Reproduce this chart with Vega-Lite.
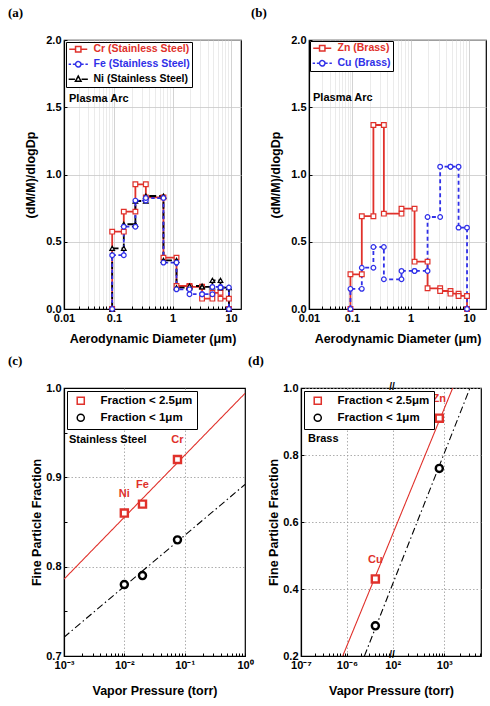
{
"$schema":"https://vega.github.io/schema/vega-lite/v6.json",
"background":"white",
"padding":{"left":7,"top":6,"right":0,"bottom":0},
"config":{
 "font":"Liberation Sans",
 "view":{"stroke":"black","strokeWidth":1.2},
 "axis":{"labelFont":"Liberation Sans","labelFontSize":11,"labelFontWeight":"bold","labelColor":"black","titleFont":"Liberation Sans","titleFontSize":12.5,"titleFontWeight":"bold","titleColor":"black","domainColor":"black","domainWidth":1.2,"tickColor":"black","tickWidth":1,"tickSize":-3,"labelFlush":false,"labelOverlap":false},
 "legend":{"labelFont":"Liberation Sans","labelColor":"black"},
 "text":{"font":"Liberation Sans"},
 "title":{"font":"Liberation Serif","fontSize":13,"fontWeight":"bold","color":"black","anchor":"start","frame":"group","offset":14}
},
"datasets":{
 "a":[
  {"s":"Cr","o":0,"d":0.092,"v":0},{"s":"Cr","o":1,"d":0.092,"v":0.575},{"s":"Cr","o":2,"d":0.147,"v":0.575},{"s":"Cr","o":3,"d":0.147,"v":0.724},{"s":"Cr","o":4,"d":0.232,"v":0.724},{"s":"Cr","o":5,"d":0.232,"v":0.927},{"s":"Cr","o":6,"d":0.35,"v":0.927},{"s":"Cr","o":7,"d":0.35,"v":0.83},{"s":"Cr","o":8,"d":0.7,"v":0.83},{"s":"Cr","o":9,"d":0.7,"v":0.382},{"s":"Cr","o":10,"d":1.17,"v":0.382},{"s":"Cr","o":11,"d":1.17,"v":0.171},{"s":"Cr","o":12,"d":1.95,"v":0.171},{"s":"Cr","o":13,"d":1.95,"v":0.165},{"s":"Cr","o":14,"d":3.2,"v":0.165},{"s":"Cr","o":15,"d":3.2,"v":0.077},{"s":"Cr","o":16,"d":4.8,"v":0.077},{"s":"Cr","o":17,"d":4.8,"v":0.12},{"s":"Cr","o":18,"d":6.6,"v":0.12},{"s":"Cr","o":19,"d":6.6,"v":0.077},{"s":"Cr","o":20,"d":9.2,"v":0.077},{"s":"Cr","o":21,"d":9.2,"v":0},
  {"s":"Ni","o":0,"d":0.092,"v":0},{"s":"Ni","o":1,"d":0.092,"v":0.451},{"s":"Ni","o":2,"d":0.147,"v":0.451},{"s":"Ni","o":3,"d":0.147,"v":0.63},{"s":"Ni","o":4,"d":0.232,"v":0.63},{"s":"Ni","o":5,"d":0.232,"v":0.803},{"s":"Ni","o":6,"d":0.35,"v":0.803},{"s":"Ni","o":7,"d":0.35,"v":0.84},{"s":"Ni","o":8,"d":0.7,"v":0.84},{"s":"Ni","o":9,"d":0.7,"v":0.362},{"s":"Ni","o":10,"d":1.17,"v":0.362},{"s":"Ni","o":11,"d":1.17,"v":0.159},{"s":"Ni","o":12,"d":1.95,"v":0.159},{"s":"Ni","o":13,"d":1.95,"v":0.171},{"s":"Ni","o":14,"d":3.2,"v":0.171},{"s":"Ni","o":15,"d":3.2,"v":0.164},{"s":"Ni","o":16,"d":4.8,"v":0.164},{"s":"Ni","o":17,"d":4.8,"v":0.213},{"s":"Ni","o":18,"d":6.6,"v":0.213},{"s":"Ni","o":19,"d":6.6,"v":0.159},{"s":"Ni","o":20,"d":9.2,"v":0.159},{"s":"Ni","o":21,"d":9.2,"v":0},
  {"s":"Fe","o":0,"d":0.092,"v":0},{"s":"Fe","o":1,"d":0.092,"v":0.4},{"s":"Fe","o":2,"d":0.147,"v":0.4},{"s":"Fe","o":3,"d":0.147,"v":0.612},{"s":"Fe","o":4,"d":0.232,"v":0.612},{"s":"Fe","o":5,"d":0.232,"v":0.806},{"s":"Fe","o":6,"d":0.35,"v":0.806},{"s":"Fe","o":7,"d":0.35,"v":0.825},{"s":"Fe","o":8,"d":0.7,"v":0.825},{"s":"Fe","o":9,"d":0.7,"v":0.345},{"s":"Fe","o":10,"d":1.17,"v":0.345},{"s":"Fe","o":11,"d":1.17,"v":0.146},{"s":"Fe","o":12,"d":1.95,"v":0.146},{"s":"Fe","o":13,"d":1.95,"v":0.11},{"s":"Fe","o":14,"d":3.2,"v":0.11},{"s":"Fe","o":15,"d":3.2,"v":0.11},{"s":"Fe","o":16,"d":4.8,"v":0.11},{"s":"Fe","o":17,"d":4.8,"v":0.164},{"s":"Fe","o":18,"d":6.6,"v":0.164},{"s":"Fe","o":19,"d":6.6,"v":0.16},{"s":"Fe","o":20,"d":9.2,"v":0.16},{"s":"Fe","o":21,"d":9.2,"v":0}
 ],
 "b":[
  {"s":"Zn","o":0,"d":0.092,"v":0},{"s":"Zn","o":1,"d":0.092,"v":0.258},{"s":"Zn","o":2,"d":0.147,"v":0.258},{"s":"Zn","o":3,"d":0.147,"v":0.69},{"s":"Zn","o":4,"d":0.232,"v":0.69},{"s":"Zn","o":5,"d":0.232,"v":1.368},{"s":"Zn","o":6,"d":0.35,"v":1.368},{"s":"Zn","o":7,"d":0.35,"v":0.709},{"s":"Zn","o":8,"d":0.7,"v":0.709},{"s":"Zn","o":9,"d":0.7,"v":0.746},{"s":"Zn","o":10,"d":1.17,"v":0.746},{"s":"Zn","o":11,"d":1.17,"v":0.352},{"s":"Zn","o":12,"d":1.95,"v":0.352},{"s":"Zn","o":13,"d":1.95,"v":0.154},{"s":"Zn","o":14,"d":3.2,"v":0.154},{"s":"Zn","o":15,"d":3.2,"v":0.134},{"s":"Zn","o":16,"d":4.8,"v":0.134},{"s":"Zn","o":17,"d":4.8,"v":0.114},{"s":"Zn","o":18,"d":6.6,"v":0.114},{"s":"Zn","o":19,"d":6.6,"v":0.097},{"s":"Zn","o":20,"d":9.2,"v":0.097},{"s":"Zn","o":21,"d":9.2,"v":0},
  {"s":"Cu","o":0,"d":0.092,"v":0},{"s":"Cu","o":1,"d":0.092,"v":0.15},{"s":"Cu","o":2,"d":0.147,"v":0.15},{"s":"Cu","o":3,"d":0.147,"v":0.307},{"s":"Cu","o":4,"d":0.232,"v":0.307},{"s":"Cu","o":5,"d":0.232,"v":0.461},{"s":"Cu","o":6,"d":0.35,"v":0.461},{"s":"Cu","o":7,"d":0.35,"v":0.221},{"s":"Cu","o":8,"d":0.7,"v":0.221},{"s":"Cu","o":9,"d":0.7,"v":0.283},{"s":"Cu","o":10,"d":1.17,"v":0.283},{"s":"Cu","o":11,"d":1.17,"v":0.283},{"s":"Cu","o":12,"d":1.95,"v":0.283},{"s":"Cu","o":13,"d":1.95,"v":0.684},{"s":"Cu","o":14,"d":3.2,"v":0.684},{"s":"Cu","o":15,"d":3.2,"v":1.058},{"s":"Cu","o":16,"d":4.8,"v":1.058},{"s":"Cu","o":17,"d":4.8,"v":1.058},{"s":"Cu","o":18,"d":6.6,"v":1.058},{"s":"Cu","o":19,"d":6.6,"v":0.605},{"s":"Cu","o":20,"d":9.2,"v":0.605},{"s":"Cu","o":21,"d":9.2,"v":0}
 ],
 "cfit":[
  {"g":"Fraction < 2.5μm","x":0.001,"y":0.786},{"g":"Fraction < 2.5μm","x":1,"y":0.994},
  {"g":"Fraction < 1μm","x":0.001,"y":0.721},{"g":"Fraction < 1μm","x":1,"y":0.892}
 ],
 "cpts":[
  {"g":"Fraction < 2.5μm","x":0.01,"y":0.86,"el":"Ni"},{"g":"Fraction < 2.5μm","x":0.02,"y":0.87,"el":"Fe"},{"g":"Fraction < 2.5μm","x":0.076,"y":0.92,"el":"Cr"},
  {"g":"Fraction < 1μm","x":0.01,"y":0.78},{"g":"Fraction < 1μm","x":0.02,"y":0.79},{"g":"Fraction < 1μm","x":0.076,"y":0.83}
 ],
 "dfit":[
  {"g":"Fraction < 2.5μm","x":8.07e-7,"y":0.2},{"g":"Fraction < 2.5μm","x":8.5e-6,"y":0.544},{"g":"Fraction < 2.5μm","x":100,"y":0.564},{"g":"Fraction < 2.5μm","x":1456,"y":1.0},
  {"g":"Fraction < 1μm","x":2.38e-6,"y":0.2},{"g":"Fraction < 1μm","x":8.5e-6,"y":0.3945},{"g":"Fraction < 1μm","x":100,"y":0.415},{"g":"Fraction < 1μm","x":3150,"y":1.0}
 ],
 "dpts":[
  {"g":"Fraction < 2.5μm","x":4.1e-6,"y":0.43,"el":"Cu"},{"g":"Fraction < 2.5μm","x":800,"y":0.91,"el":"Zn"},
  {"g":"Fraction < 1μm","x":4.1e-6,"y":0.29},{"g":"Fraction < 1μm","x":800,"y":0.76}
 ]
},
"spacing":8,
"resolve":{"scale":{"stroke":"independent","shape":"independent","strokeDash":"independent"}},
"vconcat":[
 {"hconcat":[
  {"width":177,"height":269,
   "title":{"text":"(a)","dx":-56},
   "layer":[
    {"data":{"name":"a"},"mark":{"type":"line","strokeWidth":1.8},
     "encoding":{
      "x":{"field":"d","type":"quantitative","title":"Aerodynamic Diameter (μm)","scale":{"type":"log","domain":[0.01,0.1,14.8],"range":[0,50,177],"nice":false},
        "axis":{"values":[0.01,0.02,0.03,0.04,0.05,0.06,0.07,0.08,0.09,0.1,0.2,0.3,0.4,0.5,0.6,0.7,0.8,0.9,1,2,3,4,5,6,7,8,9,10],"labelExpr":"datum.value==0.01?'0.01':datum.value==0.1?'0.1':datum.value==1?'1':datum.value==10?'10':''","labelPadding":6,"titlePadding":9,"grid":true,"gridWidth":0.8,"gridColor":{"condition":{"test":"datum.value==0.01||datum.value==0.1||datum.value==1||datum.value==10","value":"#c8c8c8"},"value":"#e6e6e6"}}},
      "y":{"field":"v","type":"quantitative","title":"(dM/M)/dlogDp","scale":{"domain":[0,2],"nice":false,"zero":false},
        "axis":{"values":[0,0.25,0.5,0.75,1,1.25,1.5,1.75,2],"labelExpr":"datum.value*2==round(datum.value*2)?format(datum.value,'.1f'):''","labelPadding":6,"titlePadding":8,"grid":true,"gridWidth":0.8,"gridColor":{"condition":{"test":"datum.value*2==round(datum.value*2)","value":"#c8c8c8"},"value":"#f0f0f0"}}},
      "stroke":{"field":"s","type":"nominal","scale":{"domain":["Cr","Fe","Ni"],"range":["#e0312b","#3030e8","#000000"]},
        "legend":{"title":null,"orient":"top-left","offset":2,"padding":2,"strokeColor":"black","fillColor":"white","symbolSize":36,"symbolOffset":5,"labelOffset":10,"labelFontSize":10.5,"labelFontWeight":"bold","rowPadding":3,
          "labelExpr":"datum.label + ' (Stainless Steel)'",
          "encode":{"symbols":{"update":{"shape":{"signal":"datum.value==='Cr'?'M-3,0H-0.9M0.9,0H3M-0.9,-0.9H0.9V0.9H-0.9Z':datum.value==='Fe'?'M-3.2,0H-2.4M-1.8,0H-1.1M1.1,0H1.8M2.4,0H3.2M0.9,0A0.9,0.9,0,1,1,-0.9,0A0.9,0.9,0,1,1,0.9,0Z':'M-3.2,0H-1.1M1.1,0H3.2M0,-1.05L0.95,0.7H-0.95Z'"},"fill":{"value":"white"},"strokeWidth":{"value":1.5},"strokeDash":{"value":[1,0]}}},
            "labels":{"update":{"fill":{"signal":"datum.value==='Cr'?'#e0312b':datum.value==='Fe'?'#3030e8':'#000000'"}}}}}},
      "strokeDash":{"field":"s","type":"nominal","scale":{"domain":["Ni","Fe","Cr"],"range":[[7,3],[3.5,2.5],[1,0]]},"legend":null},
      "order":{"field":"o","type":"quantitative"}}},
    {"data":{"name":"a"},"mark":{"type":"point","filled":true,"fill":"white","size":22,"strokeWidth":1.2,"opacity":1},
     "encoding":{
      "x":{"field":"d","type":"quantitative"},
      "y":{"field":"v","type":"quantitative"},
      "stroke":{"field":"s","type":"nominal",
        "legend":{"title":null,"orient":"top-left","offset":2,"padding":2,"strokeColor":"black","fillColor":"white","symbolSize":36,"symbolOffset":5,"labelOffset":10,"labelFontSize":10.5,"labelFontWeight":"bold","rowPadding":3,
          "labelExpr":"datum.label + ' (Stainless Steel)'",
          "encode":{"symbols":{"update":{"shape":{"signal":"datum.value==='Cr'?'M-3,0H-0.9M0.9,0H3M-0.9,-0.9H0.9V0.9H-0.9Z':datum.value==='Fe'?'M-3.2,0H-2.4M-1.8,0H-1.1M1.1,0H1.8M2.4,0H3.2M0.9,0A0.9,0.9,0,1,1,-0.9,0A0.9,0.9,0,1,1,0.9,0Z':'M-3.2,0H-1.1M1.1,0H3.2M0,-1.05L0.95,0.7H-0.95Z'"},"fill":{"value":"white"},"strokeWidth":{"value":1.5},"strokeDash":{"value":[1,0]}}},
            "labels":{"update":{"fill":{"signal":"datum.value==='Cr'?'#e0312b':datum.value==='Fe'?'#3030e8':'#000000'"}}}}}},
      "shape":{"field":"s","type":"nominal","scale":{"domain":["Ni","Fe","Cr"],"range":["triangle-up","circle","square"]},"legend":null}}},
    {"data":{"values":[{"t":"Plasma Arc","x":0.0126,"y":1.561}]},"mark":{"type":"text","align":"left","baseline":"middle","fontSize":11,"fontWeight":"bold","color":"black"},
     "encoding":{"x":{"field":"x","type":"quantitative"},"y":{"field":"y","type":"quantitative"},"text":{"field":"t"}}}
   ]},
  {"width":177,"height":269,
   "title":{"text":"(b)","dx":-58},
   "layer":[
    {"data":{"name":"b"},"mark":{"type":"line","strokeWidth":1.8},
     "encoding":{
      "x":{"field":"d","type":"quantitative","title":"Aerodynamic Diameter (μm)","scale":{"type":"log","domain":[0.01,0.1,19.4],"range":[0,43,177],"nice":false},
        "axis":{"values":[0.01,0.02,0.03,0.04,0.05,0.06,0.07,0.08,0.09,0.1,0.2,0.3,0.4,0.5,0.6,0.7,0.8,0.9,1,2,3,4,5,6,7,8,9,10],"labelExpr":"datum.value==0.01?'0.01':datum.value==0.1?'0.1':datum.value==1?'1':datum.value==10?'10':''","labelPadding":6,"titlePadding":9,"grid":true,"gridWidth":0.8,"gridColor":{"condition":{"test":"datum.value==0.01||datum.value==0.1||datum.value==1||datum.value==10","value":"#c8c8c8"},"value":"#e6e6e6"}}},
      "y":{"field":"v","type":"quantitative","title":"(dM/M)/dlogDp","scale":{"domain":[0,2],"nice":false,"zero":false},
        "axis":{"values":[0,0.25,0.5,0.75,1,1.25,1.5,1.75,2],"labelExpr":"datum.value*2==round(datum.value*2)?format(datum.value,'.1f'):''","labelPadding":6,"titlePadding":8,"grid":true,"gridWidth":0.8,"gridColor":{"condition":{"test":"datum.value*2==round(datum.value*2)","value":"#c8c8c8"},"value":"#f0f0f0"}}},
      "stroke":{"field":"s","type":"nominal","scale":{"domain":["Zn","Cu"],"range":["#e0312b","#3030e8"]},
        "legend":{"title":null,"orient":"top-left","offset":1,"padding":2,"strokeColor":"black","fillColor":"white","symbolSize":36,"symbolOffset":5,"labelOffset":10,"labelFontSize":10.5,"labelFontWeight":"bold","rowPadding":3,
          "labelExpr":"datum.label + ' (Brass)'",
          "encode":{"symbols":{"update":{"shape":{"signal":"datum.value==='Zn'?'M-3,0H-0.9M0.9,0H3M-0.9,-0.9H0.9V0.9H-0.9Z':'M-3.2,0H-2.4M-1.8,0H-1.1M1.1,0H1.8M2.4,0H3.2M0.9,0A0.9,0.9,0,1,1,-0.9,0A0.9,0.9,0,1,1,0.9,0Z'"},"fill":{"value":"white"},"strokeWidth":{"value":1.5},"strokeDash":{"value":[1,0]}}},
            "labels":{"update":{"fill":{"signal":"datum.value==='Zn'?'#e0312b':'#3030e8'"}}}}}},
      "strokeDash":{"field":"s","type":"nominal","scale":{"domain":["Cu","Zn"],"range":[[4,3],[1,0]]},"legend":null},
      "order":{"field":"o","type":"quantitative"}}},
    {"data":{"name":"b"},"mark":{"type":"point","filled":true,"fill":"white","size":22,"strokeWidth":1.2,"opacity":1},
     "encoding":{
      "x":{"field":"d","type":"quantitative"},
      "y":{"field":"v","type":"quantitative"},
      "stroke":{"field":"s","type":"nominal",
        "legend":{"title":null,"orient":"top-left","offset":1,"padding":2,"strokeColor":"black","fillColor":"white","symbolSize":36,"symbolOffset":5,"labelOffset":10,"labelFontSize":10.5,"labelFontWeight":"bold","rowPadding":3,
          "labelExpr":"datum.label + ' (Brass)'",
          "encode":{"symbols":{"update":{"shape":{"signal":"datum.value==='Zn'?'M-3,0H-0.9M0.9,0H3M-0.9,-0.9H0.9V0.9H-0.9Z':'M-3.2,0H-2.4M-1.8,0H-1.1M1.1,0H1.8M2.4,0H3.2M0.9,0A0.9,0.9,0,1,1,-0.9,0A0.9,0.9,0,1,1,0.9,0Z'"},"fill":{"value":"white"},"strokeWidth":{"value":1.5},"strokeDash":{"value":[1,0]}}},
            "labels":{"update":{"fill":{"signal":"datum.value==='Zn'?'#e0312b':'#3030e8'"}}}}}},
      "shape":{"field":"s","type":"nominal","scale":{"domain":["Cu","Zn"],"range":["circle","square"]},"legend":null}}},
    {"data":{"values":[{"t":"Plasma Arc","x":0.0124,"y":1.569}]},"mark":{"type":"text","align":"left","baseline":"middle","fontSize":11,"fontWeight":"bold","color":"black"},
     "encoding":{"x":{"field":"x","type":"quantitative"},"y":{"field":"y","type":"quantitative"},"text":{"field":"t"}}}
   ]}
 ],"spacing":68,"bounds":"flush","resolve":{"scale":{"stroke":"independent","shape":"independent","strokeDash":"independent"}}},
 {"hconcat":[
  {"width":181,"height":268,
   "title":{"text":"(c)","dx":-56},
   "layer":[
    {"data":{"name":"cfit"},"mark":{"type":"line","strokeWidth":1.1,"clip":true},
     "encoding":{
      "x":{"field":"x","type":"quantitative","title":"Vapor Pressure (torr)","scale":{"type":"log","domain":[0.001,1],"nice":false},
        "axis":{"values":[0.001,0.002,0.003,0.004,0.005,0.006,0.007,0.008,0.009,0.01,0.02,0.03,0.04,0.05,0.06,0.07,0.08,0.09,0.1,0.2,0.3,0.4,0.5,0.6,0.7,0.8,0.9,1],"labelExpr":"datum.value==0.001?'10⁻³':datum.value==0.01?'10⁻²':datum.value==0.1?'10⁻¹':datum.value==1?'10⁰':''","labelPadding":6,"titlePadding":14,"grid":true,"gridWidth":0.8,"gridDash":[1.5,2],"gridColor":{"condition":{"test":"datum.value==0.01||datum.value==0.1","value":"#999999"},"value":"rgba(0,0,0,0)"}}},
      "y":{"field":"y","type":"quantitative","title":"Fine Particle Fraction","scale":{"domain":[0.7,1.0],"nice":false,"zero":false},
        "axis":{"values":[0.7,0.75,0.8,0.85,0.9,0.95,1.0],"labelExpr":"abs(datum.value*10-round(datum.value*10))<0.001?format(datum.value,'.1f'):''","labelPadding":6,"titlePadding":2,"grid":true,"gridWidth":0.8,"gridDash":[1.5,2],"gridColor":{"condition":{"test":"abs(datum.value-0.8)<0.001||abs(datum.value-0.9)<0.001","value":"#999999"},"value":"rgba(0,0,0,0)"}}},
      "stroke":{"field":"g","type":"nominal","scale":{"domain":["Fraction < 2.5μm","Fraction < 1μm"],"range":["#e0312b","#000000"]}},
      "strokeDash":{"field":"g","type":"nominal","scale":{"domain":["Fraction < 1μm","Fraction < 2.5μm"],"range":[[7,3,1.5,3],[1,0]]},"legend":null}}},
    {"data":{"name":"cpts"},"mark":{"type":"point","filled":true,"fill":"white","size":50,"strokeWidth":2.4,"opacity":1},
     "encoding":{
      "x":{"field":"x","type":"quantitative"},
      "y":{"field":"y","type":"quantitative"},
      "stroke":{"field":"g","type":"nominal"},
      "shape":{"field":"g","type":"nominal","scale":{"domain":["Fraction < 2.5μm","Fraction < 1μm"],"range":["square","circle"]},
        "legend":{"title":null,"orient":"top-left","offset":3,"padding":4,"strokeColor":"black","fillColor":"white","symbolSize":50,"symbolOffset":4,"labelOffset":14,"labelFontSize":11.5,"labelFontWeight":"bold","rowPadding":3,
          "encode":{"symbols":{"update":{"fill":{"value":"white"},"strokeWidth":{"value":2.4},"strokeDash":{"value":[1,0]}}}}}}}},
    {"data":{"name":"cpts"},"transform":[{"filter":"datum.el"}],"mark":{"type":"text","dy":-19,"fontSize":11,"fontWeight":"bold","color":"#e0312b"},
     "encoding":{"x":{"field":"x","type":"quantitative"},"y":{"field":"y","type":"quantitative"},"text":{"field":"el"}}},
    {"data":{"values":[{"t":"Stainless Steel","x":0.00121,"y":0.942}]},"mark":{"type":"text","align":"left","baseline":"middle","fontSize":11,"fontWeight":"bold","color":"black"},
     "encoding":{"x":{"field":"x","type":"quantitative"},"y":{"field":"y","type":"quantitative"},"text":{"field":"t"}}}
   ]},
  {"width":180,"height":268,
   "title":{"text":"(d)","dx":-53},
   "layer":[
    {"data":{"name":"dfit"},"mark":{"type":"line","strokeWidth":1.1,"clip":true},
     "encoding":{
      "x":{"field":"x","type":"quantitative","title":"Vapor Pressure (torr)","scale":{"type":"log","domain":[1e-7,1e-6,8.5e-6,100,1000,5150],"range":[0,46,89,91.7,143.3,180],"nice":false},
        "axis":{"values":[1e-7,2e-7,3e-7,4e-7,5e-7,6e-7,7e-7,8e-7,9e-7,1e-6,2e-6,3e-6,4e-6,5e-6,6e-6,7e-6,8e-6,100,200,300,400,500,600,700,800,900,1000,2000,3000,4000,5000],"labelExpr":"datum.value==1e-7?'10⁻⁷':datum.value==1e-6?'10⁻⁶':datum.value==100?'10²':datum.value==1000?'10³':''","labelPadding":6,"titlePadding":14,"grid":true,"gridWidth":0.8,"gridDash":[1.5,2],"gridColor":{"condition":{"test":"datum.value==1e-6||datum.value==100||datum.value==1000","value":"#999999"},"value":"rgba(0,0,0,0)"}}},
      "y":{"field":"y","type":"quantitative","title":"Fine Particle Fraction","scale":{"domain":[0.2,1.0],"nice":false,"zero":false},
        "axis":{"values":[0.2,0.3,0.4,0.5,0.6,0.7,0.8,0.9,1.0],"labelExpr":"abs(datum.value*5-round(datum.value*5))<0.001?format(datum.value,'.1f'):''","labelPadding":6,"titlePadding":2,"grid":true,"gridWidth":0.8,"gridDash":[1.5,2],"gridColor":{"condition":{"test":"abs(datum.value*5-round(datum.value*5))<0.001","value":"#999999"},"value":"rgba(0,0,0,0)"}}},
      "stroke":{"field":"g","type":"nominal","scale":{"domain":["Fraction < 2.5μm","Fraction < 1μm"],"range":["#e0312b","#000000"]}},
      "strokeDash":{"field":"g","type":"nominal","scale":{"domain":["Fraction < 1μm","Fraction < 2.5μm"],"range":[[7,3,1.5,3],[1,0]]},"legend":null}}},
    {"data":{"name":"dpts"},"mark":{"type":"point","filled":true,"fill":"white","size":50,"strokeWidth":2.4,"opacity":1},
     "encoding":{
      "x":{"field":"x","type":"quantitative"},
      "y":{"field":"y","type":"quantitative"},
      "stroke":{"field":"g","type":"nominal"},
      "shape":{"field":"g","type":"nominal","scale":{"domain":["Fraction < 2.5μm","Fraction < 1μm"],"range":["square","circle"]},
        "legend":{"title":null,"orient":"top-left","offset":3,"padding":4,"strokeColor":"black","fillColor":"white","symbolSize":50,"symbolOffset":4,"labelOffset":14,"labelFontSize":11.5,"labelFontWeight":"bold","rowPadding":3,
          "encode":{"symbols":{"update":{"fill":{"value":"white"},"strokeWidth":{"value":2.4},"strokeDash":{"value":[1,0]}}}}}}}},
    {"data":{"name":"dpts"},"transform":[{"filter":"datum.el"}],"mark":{"type":"text","dy":-19,"fontSize":11,"fontWeight":"bold","color":"#e0312b"},
     "encoding":{"x":{"field":"x","type":"quantitative"},"y":{"field":"y","type":"quantitative"},"text":{"field":"el"}}},
    {"data":{"values":[{"t":"//","x":1,"y":0.2},{"t":"//","x":1,"y":1.0}]},"mark":{"type":"text","baseline":"middle","fontSize":10,"dy":-1,"fontWeight":"bold","color":"black"},
     "encoding":{"x":{"field":"x","type":"quantitative"},"y":{"field":"y","type":"quantitative"},"text":{"field":"t"}}},
    {"data":{"values":[{"t":"Brass","x":1.42e-7,"y":0.848}]},"mark":{"type":"text","align":"left","baseline":"middle","fontSize":11,"fontWeight":"bold","color":"black"},
     "encoding":{"x":{"field":"x","type":"quantitative"},"y":{"field":"y","type":"quantitative"},"text":{"field":"t"}}}
   ]}
 ],"spacing":56,"bounds":"flush","resolve":{"scale":{"stroke":"independent","shape":"independent","strokeDash":"independent"}}}
]
}
